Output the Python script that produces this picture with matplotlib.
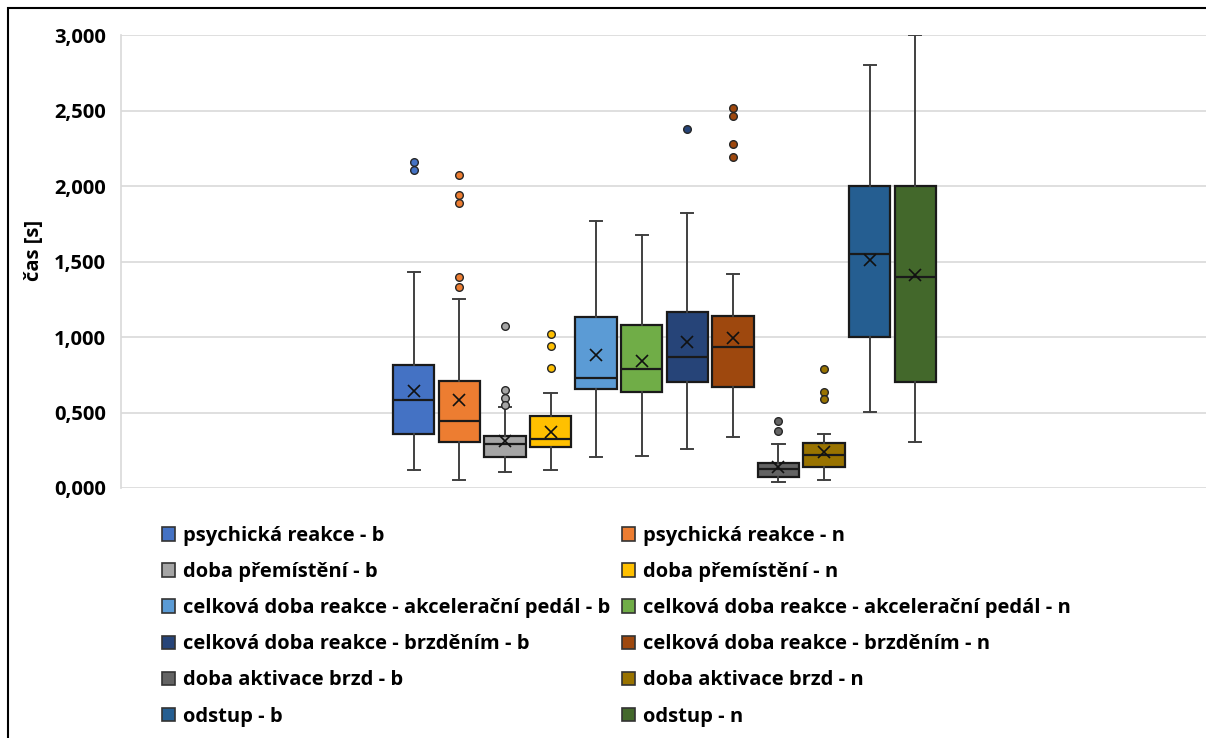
import matplotlib
matplotlib.use("Agg")
import matplotlib.pyplot as plt
from matplotlib.patches import Patch, Rectangle
from matplotlib.ticker import FuncFormatter

labels = [
    "psychická reakce - b", "psychická reakce - n",
    "doba přemístění - b", "doba přemístění - n",
    "celková doba reakce - akcelerační pedál - b", "celková doba reakce - akcelerační pedál - n",
    "celková doba reakce - brzděním - b", "celková doba reakce - brzděním - n",
    "doba aktivace brzd - b", "doba aktivace brzd - n",
    "odstup - b", "odstup - n",
]
colors = ["#4472C4", "#ED7D31", "#A5A5A5", "#FFC000", "#5B9BD5", "#70AD47",
          "#264478", "#9E480E", "#636363", "#997300", "#255E91", "#43682B"]

whislo = [0.121, 0.053, 0.108, 0.121, 0.203, 0.214, 0.258, 0.340, 0.038, 0.053, 0.501, 0.303]
q1     = [0.360, 0.307, 0.205, 0.274, 0.654, 0.638, 0.702, 0.669, 0.073, 0.141, 0.998, 0.704]
med    = [0.583, 0.444, 0.294, 0.327, 0.726, 0.790, 0.870, 0.936, 0.124, 0.217, 1.550, 1.399]
q3     = [0.812, 0.706, 0.342, 0.477, 1.130, 1.077, 1.166, 1.139, 0.168, 0.296, 2.000, 2.000]
whishi = [1.428, 1.252, 0.536, 0.627, 1.770, 1.678, 1.819, 1.415, 0.291, 0.360, 2.799, 3.000]
means  = [0.645, 0.585, 0.313, 0.373, 0.883, 0.841, 0.967, 0.993, 0.141, 0.240, 1.512, 1.409]
outliers = [
    [2.157, 2.108],
    [2.075, 1.940, 1.885, 1.397, 1.331],
    [1.071, 0.651, 0.598, 0.550],
    [1.022, 0.938, 0.797],
    [],
    [],
    [2.377],
    [2.517, 2.466, 2.280, 2.192],
    [0.442, 0.377],
    [0.786, 0.638, 0.587],
    [],
    [],
]
yticks = [0.0, 0.5, 1.0, 1.5, 2.0, 2.5, 3.0]

FONT = "Open Sans"
FS = 14.5
plt.rcParams['font.family'] = [FONT, 'DejaVu Sans']

W, H = 1206, 738
fig = plt.figure(figsize=(W / 100, H / 100), dpi=100)
ax = fig.add_axes([121 / W, 1 - 488 / H, (1208 - 121) / W, (488 - 35) / H])

positions = list(range(len(labels)))
for i in positions:
    st = dict(whislo=whislo[i], q1=q1[i], med=med[i], q3=q3[i], whishi=whishi[i],
              mean=means[i], fliers=outliers[i], label=labels[i])
    ax.bxp([st], positions=[i], widths=0.91, patch_artist=True, showmeans=True,
           boxprops=dict(facecolor=colors[i], edgecolor="#1a1a1a", linewidth=1.6),
           medianprops=dict(color="#1a1a1a", linewidth=1.6),
           whiskerprops=dict(color="#404040", linewidth=1.4),
           capprops=dict(color="#404040", linewidth=1.4),
           capwidths=0.27,
           meanprops=dict(marker="x", markeredgecolor="#111111", markersize=9,
                          markeredgewidth=1.2, linestyle="none"),
           flierprops=dict(marker="o", markerfacecolor=colors[i], markeredgecolor="#262626",
                           markersize=5.5, markeredgewidth=1.0, linestyle="none"),
           zorder=3)

ax.set_xlim(5.5 - 11.92, 5.5 + 11.92)
ax.set_ylim(0, 3.0)
ax.set_yticks(yticks)
ax.yaxis.set_major_formatter(FuncFormatter(lambda v, p: f"{v:.3f}".replace(".", ",")))
ax.set_xticks([])
ax.grid(axis="y", color="#d9d9d9", linewidth=1.2, zorder=0)
ax.set_axisbelow(True)
for s in ["top", "right", "bottom"]:
    ax.spines[s].set_visible(False)
ax.spines["left"].set_color("#d9d9d9")
ax.spines["left"].set_linewidth(1.2)
ax.tick_params(axis="y", length=0, pad=11, labelsize=FS)
for t in ax.get_yticklabels():
    t.set_fontweight("bold")
ax.set_ylabel("čas [s]", fontsize=FS, fontweight="bold")
ax.yaxis.set_label_coords(-0.071, 0.525)

# legend: two columns
for col, x0 in ((0, 162), (1, 622)):
    idx = [i for i in positions if i % 2 == col]
    handles = [Patch(facecolor=colors[i], edgecolor="#333333", linewidth=1.2) for i in idx]
    leg = fig.legend(handles, [labels[i] for i in idx], loc="upper left",
                     bbox_to_anchor=(x0 / W, 1 - 526 / H), frameon=False,
                     prop=dict(family=FONT, weight="bold", size=FS),
                     handlelength=0.65, handleheight=0.65, handletextpad=0.4,
                     labelspacing=0.8, borderaxespad=0, borderpad=0)

# outer border of chart area (top and left visible)
fig.patches.append(Rectangle((8 / W, -0.1), 1.2, 1 - 8 / H + 0.1, transform=fig.transFigure,
                             fill=False, edgecolor="black", linewidth=1.5))

fig.savefig("out.png", dpi=100)
